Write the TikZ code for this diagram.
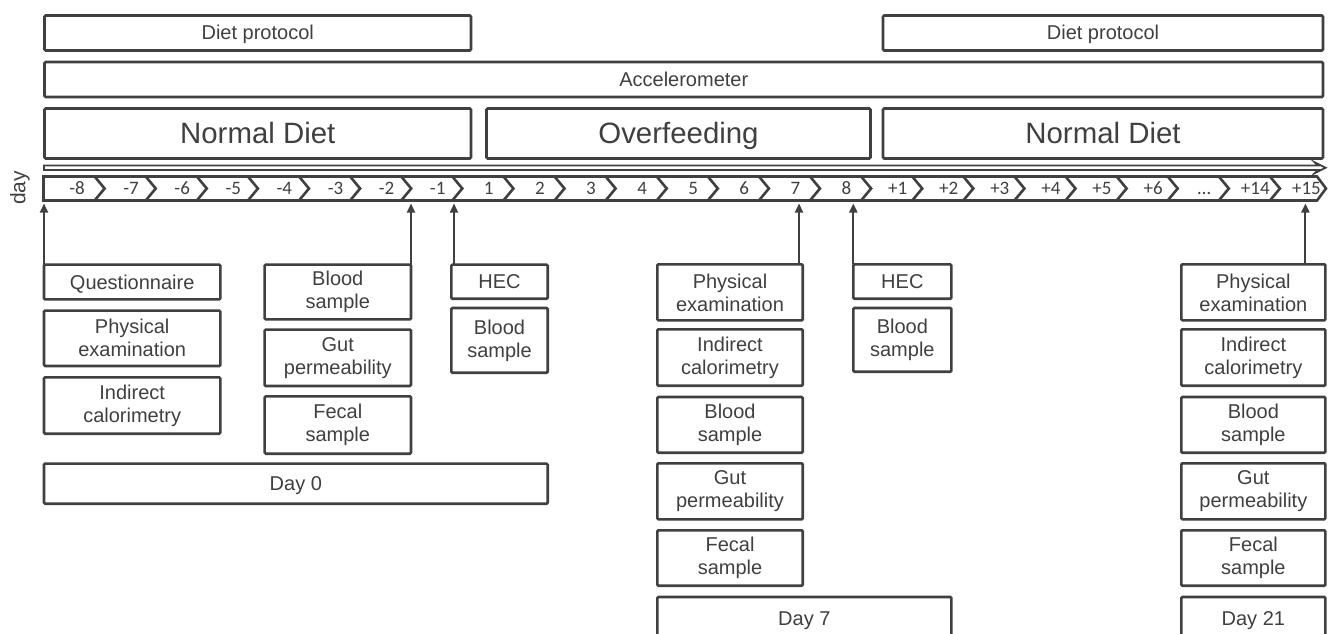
\documentclass[tikz,border=0pt]{standalone}
\usepackage{fontspec}
\setmainfont{Liberation Sans}
\newfontfamily\numfont{Carlito}
\usetikzlibrary{arrows.meta}
\definecolor{lc}{HTML}{404040}
\definecolor{tc}{HTML}{404040}
\newcommand\bx[7][box]{\node[#1, minimum width={(#5-#3)*1pt}, minimum height={(#6-#4)*1pt}] (#2) at ({(#3+#5)/2},{(#4+#6)/2}) {#7};}
\begin{document}
\begin{tikzpicture}[x=1pt,y=-1pt,
 box/.style={draw=lc, line width=2.6pt, rounded corners=1.2pt, inner sep=0pt, outer sep=0pt, align=center, text=tc, font=\fontsize{20}{23}\selectfont},
 one/.style={box, text height=18pt, text depth=4pt},
 bigbox/.style={box, text height=26.5pt, text depth=5.9pt, font=\fontsize{29.4}{34}\selectfont},
 num/.style={text=tc, font=\numfont\fontsize{19}{20}\selectfont, inner sep=0pt, anchor=base},
 up/.style={draw=lc, line width=2pt, -{Triangle[width=8pt,length=9pt]}}]
\clip (0,0) rectangle (1330,634);
\fill[white] (0,0) rectangle (1330,634);
% top bars
\bx[one]{dp1}{44.5}{15.5}{471}{50.5}{Diet protocol}
\bx[one]{dp2}{883}{15.5}{1323}{50.5}{Diet protocol}
\bx[one]{acc}{44.5}{62}{1323}{97}{Accelerometer}
\bx[bigbox]{nd1}{44.5}{108.5}{471}{158.5}{Normal Diet}
\bx[bigbox]{ov}{486.5}{108.5}{870.5}{158.5}{Overfeeding}
\bx[bigbox]{nd2}{883}{108.5}{1323}{158.5}{Normal Diet}
% double-line arrow
\draw[lc, line width=1.8pt, line join=miter] (44,165.5)--(1318,165.5)--(1315,162.5)--(1325.5,167.75)--(1315,173)--(1318,170)--(44,170)--cycle;
% timeline
\draw[lc, line width=2.6pt, line join=miter] (43.5,176.5) -- (1317,176.5) -- (1326,188.5) -- (1317,200.5) -- (43.5,200.5) -- cycle;
\foreach \i in {1,...,24} \draw[lc, line width=2.6pt, line join=miter] ({43.5+51.1*\i},176.5) -- ({53.5+51.1*\i},188.5) -- ({43.5+51.1*\i},200.5);
\foreach \t [count=\i from 0] in {-8,-7,-6,-5,-4,-3,-2,-1,1,2,3,4,5,6,7,8,+1,+2,+3,+4,+5,+6,…,+14,+15}{
  \pgfmathsetmacro\xx{\i==0 ? 77 : 43.5+51.1*\i+36.5}
  \node[num] (t\i) at (\xx,194.8) {\t};
}
\node[text=tc, font=\fontsize{21}{22}\selectfont, rotate=90, inner sep=0pt] (daylbl) at (20,188) {day};
\coordinate (tlb) at (0,203.5);
% lower boxes, column 1
\bx[one]{q}{44}{264.6}{220.4}{299.4}{Questionnaire}
\bx{pe1}{44}{310.6}{220.4}{366}{Physical\\examination}
\bx{ic1}{44}{377.3}{220.4}{433.7}{Indirect\\calorimetry}
\bx{bs1}{264.6}{264.6}{411}{319.4}{Blood\\sample}
\bx{gp1}{264.6}{329.6}{411}{386}{Gut\\permeability}
\bx{fs1}{264.6}{396.3}{411}{453.7}{Fecal\\sample}
\bx[one]{d0}{44}{463.6}{547.7}{503.7}{Day 0}
\bx[one]{hec1}{451.3}{264.6}{547.7}{298.7}{HEC}
\bx{bs2}{451.3}{308}{547.7}{372.7}{Blood\\sample}
% column day 7
\bx{pe2}{657.3}{264.3}{802.7}{320.4}{Physical\\examination}
\bx{ic2}{657.3}{329.3}{802.7}{385.7}{Indirect\\calorimetry}
\bx{bs3}{657.3}{397}{802.7}{452.7}{Blood\\sample}
\bx{gp2}{657.3}{463.3}{802.7}{519.4}{Gut\\permeability}
\bx{fs2}{657.3}{530.3}{802.7}{585.7}{Fecal\\sample}
\bx[one]{d7}{657.3}{597}{951.4}{640}{Day 7}
\bx[one]{hec2}{853.3}{264.3}{951.4}{298.7}{HEC}
\bx{bs4}{853.3}{308}{951.4}{371.7}{Blood\\sample}
% column day 21
\bx{pe3}{1181.3}{264.3}{1325.4}{320.4}{Physical\\examination}
\bx{ic3}{1181.3}{329.3}{1325.4}{385.7}{Indirect\\calorimetry}
\bx{bs5}{1181.3}{397}{1325.4}{452.7}{Blood\\sample}
\bx{gp3}{1181.3}{463.3}{1325.4}{519.4}{Gut\\permeability}
\bx{fs3}{1181.3}{530.3}{1325.4}{585.7}{Fecal\\sample}
\bx[one]{d21}{1181.3}{597}{1325.4}{640}{Day 21}
% arrows
\draw[up] (q.north west) -- (q.north west |- tlb);
\draw[up] (bs1.north east) -- (bs1.north east |- tlb);
\draw[up] ([xshift=2.7pt]hec1.north west) -- ([xshift=2.7pt]hec1.north west |- tlb);
\draw[up] ([xshift=-3.7pt]pe2.north east) -- ([xshift=-3.7pt]pe2.north east |- tlb);
\draw[up] (hec2.north west) -- (hec2.north west |- tlb);
\draw[up] ([xshift=-20pt]pe3.north east) -- ([xshift=-20pt]pe3.north east |- tlb);
\end{tikzpicture}
\end{document}
